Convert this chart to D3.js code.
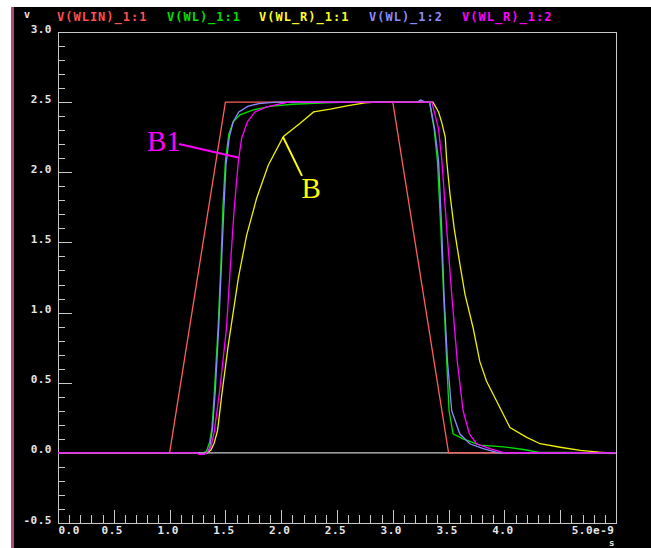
<!DOCTYPE html>
<html lang="en">
<head>
<meta charset="UTF-8">
<title>WL transient</title>
<script src="https://cdnjs.cloudflare.com/ajax/libs/d3/7.8.5/d3.min.js"></script>
<style>
    body { margin: 0; background: #fff; }
    svg { display: block; }
    .axis text { font-family: "DejaVu Sans Mono", monospace; font-weight: bold; font-size: 11px; fill: #e6e6e6; }
    .axis line { stroke: #c8c8c8; shape-rendering: crispEdges; }
    .legend { font-family: "DejaVu Sans Mono", monospace; font-weight: bold; font-size: 12px; letter-spacing: 1px; }
    .note { font-family: "Liberation Serif", "DejaVu Serif", serif; }
</style>
</head>
<body>
<svg id="chart" width="651" height="548"></svg>
<script>
// time in ns, voltage in V
const wlin11 = [[0, 0], [1.0, 0], [1.5, 2.5], [3.0, 2.5], [3.5, 0], [5.0, 0]];
const wl11 = [[0, 0], [1.30, 0], [1.33, 0.01], [1.36, 0.08], [1.38, 0.18], [1.40, 0.42], [1.435, 0.9], [1.46, 1.35],
    [1.478, 1.75], [1.50, 2.08], [1.53, 2.27], [1.57, 2.36], [1.63, 2.41], [1.75, 2.445], [1.90, 2.47],
    [2.10, 2.485], [2.40, 2.495], [2.60, 2.5], [3.33, 2.5], [3.37, 2.31], [3.40, 2.08], [3.43, 1.6],
    [3.455, 1.13], [3.483, 0.65], [3.504, 0.30], [3.54, 0.136], [3.63, 0.10], [3.78, 0.055], [3.99, 0.043],
    [4.17, 0.024], [4.30, 0.005], [5.0, 0]];
const wlr11 = [[0, 0], [1.34, 0], [1.37, 0.02], [1.40, 0.07], [1.43, 0.16], [1.467, 0.41], [1.526, 0.77],
    [1.616, 1.245], [1.69, 1.55], [1.78, 1.815], [1.884, 2.05], [2.02, 2.255], [2.17, 2.35], [2.29, 2.43],
    [2.44, 2.45], [2.60, 2.475], [2.75, 2.495], [2.85, 2.5], [3.36, 2.5], [3.41, 2.43], [3.44, 2.35],
    [3.47, 2.25], [3.483, 2.08], [3.513, 1.84], [3.55, 1.6], [3.596, 1.37], [3.647, 1.13], [3.72, 0.89],
    [3.78, 0.65], [3.84, 0.51], [3.93, 0.37], [4.05, 0.18], [4.20, 0.11], [4.32, 0.065], [4.50, 0.04],
    [4.68, 0.017], [4.85, 0.005], [4.95, 0], [5.0, 0]];
const wl12 = [[0, 0], [1.34, 0], [1.36, 0.04], [1.385, 0.18], [1.41, 0.45], [1.44, 0.9], [1.465, 1.35],
    [1.485, 1.72], [1.505, 2.05], [1.535, 2.25], [1.57, 2.36], [1.62, 2.43], [1.70, 2.47], [1.80, 2.49],
    [1.95, 2.5], [3.22, 2.5], [3.25, 2.515], [3.29, 2.5], [3.33, 2.5], [3.375, 2.31], [3.41, 2.08],
    [3.438, 1.6], [3.459, 1.13], [3.49, 0.65], [3.528, 0.30], [3.60, 0.136], [3.69, 0.065], [3.81, 0.03],
    [3.95, 0], [5.0, 0]];
const wlr12 = [[0, 0], [1.25, 0], [1.26, -0.01], [1.31, -0.01], [1.33, 0], [1.37, 0.04], [1.40, 0.15],
    [1.45, 0.45], [1.51, 0.89], [1.547, 1.36], [1.577, 1.72], [1.616, 2.08], [1.646, 2.245], [1.697, 2.36],
    [1.765, 2.43], [1.87, 2.466], [2.0, 2.49], [2.10, 2.505], [2.2, 2.5], [3.35, 2.5], [3.41, 2.31],
    [3.44, 2.08], [3.483, 1.6], [3.528, 1.13], [3.578, 0.65], [3.63, 0.30], [3.686, 0.136], [3.75, 0.065],
    [3.87, 0.03], [4.0, 0], [5.0, 0]];

const seriesNames = ["V(WLIN)_1:1", "V(WL)_1:1", "V(WL_R)_1:1", "V(WL)_1:2", "V(WL_R)_1:2"];
const seriesData = [wlin11, wl11, wlr11, wl12, wlr12];
const seriesColors = ["#ff5c5c", "#00e000", "#f0f000", "#8a8aff", "#ff00ff"];
const legendColors = ["#ff5050", "#00e000", "#ffff20", "#8c8cff", "#ff00ff"];

const xMajor = [0, 0.5, 1.0, 1.5, 2.0, 2.5, 3.0, 3.5, 4.0, 4.5, 5.0];
const xTickLabels = ["0.0", "0.5", "1.0", "1.5", "2.0", "2.5", "3.0", "3.5", "4.0", "", "5.0e-9"];
const yMajor = [3.0, 2.5, 2.0, 1.5, 1.0, 0.5, 0.0, -0.5];
const yTickLabels = ["3.0", "2.5", "2.0", "1.5", "1.0", "0.5", "0.0", "-0.5"];

// callouts, anchored in data units
const notes = [
    { text: "B1", color: "#ff00ff", tx: 0.797, ty: 2.149, from: [1.084, 2.202], to: [1.622, 2.103] },
    { text: "B", color: "#ffff00", tx: 2.182, ty: 1.814, from: [2.186, 1.974], to: [2.016, 2.252] }
];

const svg = d3.select("#chart");
const W = 651, H = 548;
const plot = { left: 58, right: 616, top: 32, bottom: 523 };

// panel background
svg.append("rect").attr("x", 14).attr("y", 7).attr("width", W - 14).attr("height", H - 7).attr("fill", "#000");
svg.append("rect").attr("x", 11).attr("y", 7).attr("width", 3).attr("height", H - 7).attr("fill", "#b04878");

const x = d3.scaleLinear().domain([0, 5]).range([plot.left, plot.right]);
const y = d3.scaleLinear().domain([-0.5, 3]).range([plot.bottom, plot.top]);

// x axis: minor then major ticks, pointing into the plot
svg.append("g").attr("class", "axis")
    .attr("transform", `translate(0,${plot.bottom})`)
    .call(d3.axisBottom(x).tickValues(d3.range(0, 51).map(i => i / 10)).tickSize(-8).tickFormat(""))
    .call(g => g.select(".domain").remove());

const xg = svg.append("g").attr("class", "axis")
    .attr("transform", `translate(0,${plot.bottom})`)
    .call(d3.axisBottom(x).tickValues(xMajor).tickSize(-13).tickPadding(3)
        .tickFormat((d, i) => xTickLabels[i]))
    .call(g => g.select(".domain").remove());
xg.selectAll("text").attr("dx", -2).attr("letter-spacing", 0.5);
xg.selectAll("text").filter((d, i) => i === 0).attr("text-anchor", "start").attr("dx", 0);
xg.selectAll("text").filter((d, i) => i === xMajor.length - 1).attr("text-anchor", "end").attr("dx", -2);

// y axis
svg.append("g").attr("class", "axis")
    .attr("transform", `translate(${plot.left},0)`)
    .call(d3.axisLeft(y).tickValues(d3.range(-5, 31).map(i => i / 10)).tickSize(-7).tickFormat(""))
    .call(g => g.select(".domain").remove());

const yg = svg.append("g").attr("class", "axis")
    .attr("transform", `translate(${plot.left},0)`)
    .call(d3.axisLeft(y).tickValues(yMajor).tickSize(-14).tickPadding(6)
        .tickFormat((d, i) => yTickLabels[i]))
    .call(g => g.select(".domain").remove());
yg.selectAll("text").attr("dy", 0).attr("letter-spacing", 0.5);

// frame
svg.append("rect")
    .attr("x", plot.left + 0.5).attr("y", plot.top + 0.5)
    .attr("width", plot.right - plot.left).attr("height", plot.bottom - plot.top)
    .attr("fill", "none").attr("stroke", "#c8c8c8").attr("shape-rendering", "crispEdges");

// zero reference line
svg.append("line")
    .attr("x1", x(0)).attr("x2", x(5)).attr("y1", y(0)).attr("y2", y(0))
    .attr("stroke", "#c8c8c8").attr("stroke-width", 1.2);

// unit labels
svg.append("text").attr("x", 24).attr("y", 18)
    .attr("font-family", "DejaVu Sans Mono").attr("font-weight", "bold").attr("font-size", 10)
    .attr("fill", "#e6e6e6").text("v");
svg.append("text").attr("x", 609).attr("y", 545.5)
    .attr("font-family", "DejaVu Sans Mono").attr("font-weight", "bold").attr("font-size", 9)
    .attr("fill", "#e6e6e6").text("s");

// curves
const line = d3.line().x(d => x(d[0])).y(d => y(d[1]));
svg.append("g").selectAll("path")
    .data(seriesData)
    .enter()
    .append("path")
    .attr("d", line)
    .attr("fill", "none")
    .attr("stroke", (d, i) => seriesColors[i])
    .attr("stroke-width", 1.3);

// legend
const legendX = [57, 167, 259, 369, 462];
svg.append("g").selectAll("text")
    .data(seriesNames)
    .enter()
    .append("text")
    .attr("class", "legend")
    .attr("x", (d, i) => legendX[i])
    .attr("y", 21)
    .attr("fill", (d, i) => legendColors[i])
    .text(d => d);

// callouts
notes.forEach(n => {
    svg.append("line")
        .attr("x1", x(n.from[0])).attr("y1", y(n.from[1]))
        .attr("x2", x(n.to[0])).attr("y2", y(n.to[1]))
        .attr("stroke", n.color).attr("stroke-width", 2);
    svg.append("text").attr("class", "note")
        .attr("x", x(n.tx)).attr("y", y(n.ty))
        .attr("font-size", 29)
        .attr("fill", n.color)
        .text(n.text);
});
</script>
</body>
</html>
